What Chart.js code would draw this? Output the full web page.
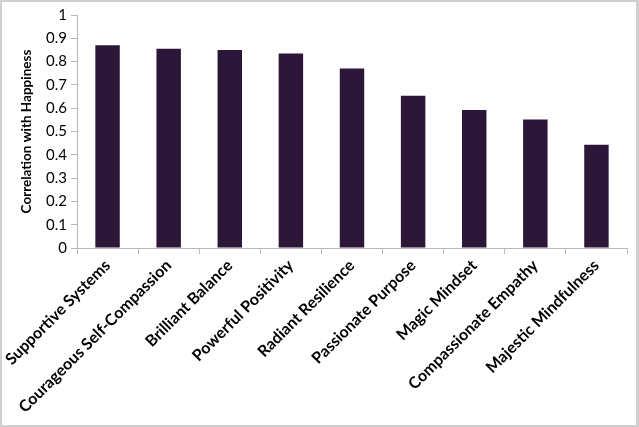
<!DOCTYPE html>
<html>
<head>
<meta charset="utf-8">
<script src="https://cdn.jsdelivr.net/npm/chart.js@4.4.1/dist/chart.umd.min.js"></script>
<style>
  html, body { margin: 0; padding: 0; background: #fff; }
  #frame {
    position: relative;
    width: 639px;
    height: 427px;
    box-sizing: border-box;
    border: 2px solid #cfcfcf;
    border-right-width: 3px;
  }
  #chart { position: absolute; left: -2px; top: -2px; }
</style>
</head>
<body>
<div id="frame"><canvas id="chart" width="639" height="427"></canvas></div>
<script>
// Happiness correlations
const categories = [
  "Supportive Systems",
  "Courageous Self-Compassion",
  "Brilliant Balance",
  "Powerful Positivity",
  "Radiant Resilience",
  "Passionate Purpose",
  "Magic Mindset",
  "Compassionate Empathy",
  "Majestic Mindfulness",
];
const correlations = [0.87, 0.855, 0.85, 0.835, 0.77, 0.653, 0.592, 0.552, 0.443];
const yTicks = [0, 0.1, 0.2, 0.3, 0.4, 0.5, 0.6, 0.7, 0.8, 0.9, 1];

const BAR = "#2c1738";
const AXIS = "#b8b8b8";
const FONT = "Lato, 'Open Sans', sans-serif";

new Chart(document.getElementById("chart"), {
  type: "bar",
  data: {
    labels: categories,
    datasets: [{
      data: correlations,
      backgroundColor: BAR,
      categoryPercentage: 1,
      barPercentage: 0.4,
    }],
  },
  options: {
    responsive: false,
    animation: false,
    layout: { padding: { top: 15, right: 12, bottom: 0, left: 0 } },
    plugins: { legend: { display: false }, tooltip: { enabled: false } },
    scales: {
      x: {
        grid: { offset: true, drawOnChartArea: false, tickLength: 6, color: AXIS },
        border: { color: AXIS, width: 1 },
        ticks: {
          minRotation: 45,
          maxRotation: 45,
          color: "#000",
          padding: 2,
          font: { family: FONT, size: 16, weight: "bold" },
        },
        afterFit: (s) => { s.height = 427 - 248; },
      },
      y: {
        min: 0,
        max: 1,
        afterBuildTicks: (s) => { s.ticks = yTicks.map((v) => ({ value: v })); },
        grid: { drawOnChartArea: false, tickLength: 6, color: AXIS },
        border: { color: AXIS, width: 1 },
        ticks: {
          color: "#000",
          padding: 4,
          font: { family: FONT, size: 15 },
          callback: (v) => String(Math.round(v * 10) / 10),
        },
        title: {
          display: true,
          text: "Correlation with Happiness",
          color: "#000",
          padding: { top: 19, bottom: 0 },
          font: { family: FONT, size: 13.5, weight: "bold" },
        },
        afterFit: (s) => { s.width = 77; },
      },
    },
  },
});
</script>
</body>
</html>
